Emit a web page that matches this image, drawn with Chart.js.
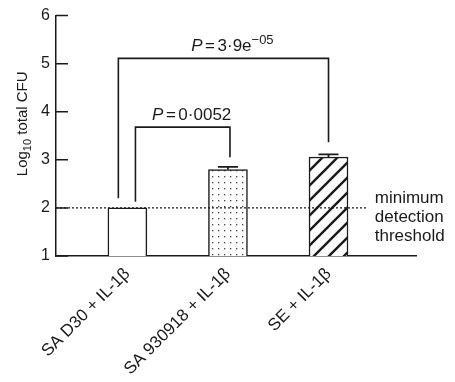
<!DOCTYPE html>
<html>
<head>
<meta charset="utf-8">
<script src="https://cdn.jsdelivr.net/npm/chart.js@4.4.1/dist/chart.umd.min.js"></script>
<style>
  html, body { margin: 0; padding: 0; background: #fff; }
  #wrap { width: 455px; height: 382px; }
</style>
</head>
<body>
<div id="wrap"><canvas id="chart"></canvas></div>
<script>
const groups = ["SA D30 + IL-1β", "SA 930918 + IL-1β", "SE + IL-1β"];
const groupPos = [1, 2, 3];
const logCfu = [2.0, 2.8, 3.06];
const sem = [0, 0.055, 0.055];
const yTicks = [1, 2, 3, 4, 5, 6];
const detectionLimit = 2;
const limitLabel = ["minimum", "detection", "threshold"];

// pairwise comparisons (group indexes) and their P values
const compareFrom = [0, 0];
const compareTo = [1, 2];
const pMantissa = ["0·0052", "3·9e"];
const pExponent = ["", "−05"];

const INK = "#1a1a1a";
const FONT = "'Liberation Sans', Arial, Helvetica, sans-serif";

function makeDots() {
  const tile = document.createElement("canvas");
  tile.width = 6;
  tile.height = 6;
  const c = tile.getContext("2d");
  c.fillStyle = "#fff";
  c.fillRect(0, 0, 6, 6);
  c.fillStyle = "#444";
  c.fillRect(2, 2, 1.3, 1.3);
  return c.createPattern(tile, "repeat");
}

function makeHatch() {
  const s = 15;
  const tile = document.createElement("canvas");
  tile.width = s;
  tile.height = s;
  const c = tile.getContext("2d");
  c.fillStyle = "#fff";
  c.fillRect(0, 0, s, s);
  c.strokeStyle = INK;
  c.lineWidth = 2.4;
  c.beginPath();
  c.moveTo(0, s);
  c.lineTo(s, 0);
  c.moveTo(-2, 2);
  c.lineTo(2, -2);
  c.moveTo(s - 2, s + 2);
  c.lineTo(s + 2, s - 2);
  c.stroke();
  return c.createPattern(tile, "repeat");
}

// draw a row of text pieces centred on cx
function drawRuns(ctx, runs, cx, baseline) {
  let total = 0;
  runs.forEach((r) => {
    ctx.font = r.font;
    r.w = ctx.measureText(r.text).width + (r.gap || 0);
    total += r.w;
  });
  let x = cx - total / 2;
  ctx.textAlign = "left";
  ctx.textBaseline = "alphabetic";
  runs.forEach((r) => {
    ctx.font = r.font;
    ctx.fillText(r.text, x + (r.gap || 0) / 2, baseline + (r.dy || 0));
    x += r.w;
  });
}

const extras = {
  id: "extras",
  afterDatasetsDraw(chart) {
    const { ctx, chartArea, scales } = chart;
    const xs = scales.x;
    const ys = scales.y;
    ctx.save();
    ctx.strokeStyle = INK;
    ctx.fillStyle = INK;

    // inward tick marks on the y axis
    ctx.lineWidth = 1.5;
    ctx.beginPath();
    yTicks.forEach((v) => {
      const py = ys.getPixelForValue(v);
      ctx.moveTo(chartArea.left, py);
      ctx.lineTo(chartArea.left + 12, py);
    });
    ctx.stroke();

    // error bars (upper half)
    logCfu.forEach((v, i) => {
      if (!sem[i]) return;
      const px = xs.getPixelForValue(groupPos[i]);
      const top = ys.getPixelForValue(v + sem[i]);
      const base = ys.getPixelForValue(v);
      ctx.lineWidth = 1.8;
      ctx.beginPath();
      ctx.moveTo(px, base);
      ctx.lineTo(px, top);
      ctx.moveTo(px - 10, top);
      ctx.lineTo(px + 10, top);
      ctx.stroke();
    });

    // detection limit
    const ly = ys.getPixelForValue(detectionLimit);
    ctx.lineWidth = 1.2;
    ctx.setLineDash([2, 2]);
    ctx.beginPath();
    ctx.moveTo(chartArea.left, ly);
    ctx.lineTo(xs.getPixelForValue(3.39), ly);
    ctx.stroke();
    ctx.setLineDash([]);
    ctx.font = "17px " + FONT;
    ctx.textAlign = "left";
    ctx.textBaseline = "middle";
    limitLabel.forEach((t, i) => {
      ctx.fillText(t, xs.getPixelForValue(3.46), ly - 10 + i * 19);
    });

    // comparison brackets
    const legShift = [[0.08, 0.02], [-0.09, 0]];
    const levels = [3.68, 5.11];
    const gaps = [0.13, 0.2];
    compareFrom.forEach((a, k) => {
      const b = compareTo[k];
      const x1 = xs.getPixelForValue(groupPos[a] + legShift[k][0]);
      const x2 = xs.getPixelForValue(groupPos[b] + legShift[k][1]);
      const yTop = ys.getPixelForValue(levels[k]);
      const y1 = ys.getPixelForValue(logCfu[a] + sem[a] + gaps[k]);
      const y2 = ys.getPixelForValue(logCfu[b] + sem[b] + 0.2 + k * 0.05);
      ctx.lineWidth = 1.6;
      ctx.beginPath();
      ctx.moveTo(x1, y1);
      ctx.lineTo(x1, yTop);
      ctx.lineTo(x2, yTop);
      ctx.lineTo(x2, y2);
      ctx.stroke();

      const runs = [
        { text: "P", font: "italic 17px " + FONT },
        { text: "=", font: "17px " + FONT, gap: 5 },
        { text: pMantissa[k], font: "17px " + FONT },
      ];
      if (pExponent[k]) runs.push({ text: pExponent[k], font: "13px " + FONT, dy: -7 });
      drawRuns(ctx, runs, (x1 + x2) / 2 + 9, yTop - 7);
    });

    // y axis title with subscript
    ctx.translate(chartArea.left - 29, (chartArea.top + chartArea.bottom) / 2 - 12);
    ctx.rotate(-Math.PI / 2);
    drawRuns(ctx, [
      { text: "Log", font: "15px " + FONT },
      { text: "10", font: "11px " + FONT, dy: 4 },
      { text: " total CFU", font: "15px " + FONT },
    ], 0, 0);
    ctx.restore();
  },
};

new Chart(document.getElementById("chart"), {
  type: "bar",
  data: {
    datasets: [
      {
        data: groupPos.map((x, i) => ({ x, y: logCfu[i] })),
        backgroundColor: ["#ffffff", makeDots(), makeHatch()],
        borderColor: INK,
        borderWidth: 1.5,
        barThickness: 39,
      },
    ],
  },
  options: {
    responsive: true,
    maintainAspectRatio: false,
    animation: false,
    layout: { padding: { top: 15, right: 39, left: 0, bottom: 0 } },
    plugins: {
      legend: { display: false },
      tooltip: { enabled: false },
    },
    scales: {
      x: {
        type: "linear",
        min: 0.29,
        max: 3.87,
        offset: false,
        grid: { display: false, drawTicks: false },
        border: { display: true, color: INK, width: 1.5 },
        afterBuildTicks: (s) => {
          s.ticks = groupPos.map((v) => ({ value: v }));
        },
        afterFit: (s) => {
          s.height = 126;
        },
        ticks: {
          autoSkip: false,
          minRotation: 45,
          maxRotation: 45,
          padding: 8,
          color: INK,
          font: { family: FONT, size: 17 },
          callback: (v, i) => groups[i],
        },
      },
      y: {
        type: "linear",
        min: 1,
        max: 6,
        beginAtZero: false,
        grid: { display: false, drawTicks: false },
        border: { display: true, color: INK, width: 1.5 },
        afterBuildTicks: (s) => {
          s.ticks = yTicks.map((v) => ({ value: v }));
        },
        afterFit: (s) => {
          s.width = 56;
        },
        ticks: {
          padding: 6,
          color: INK,
          font: { family: FONT, size: 16 },
        },
      },
    },
  },
  plugins: [extras],
});
</script>
</body>
</html>
